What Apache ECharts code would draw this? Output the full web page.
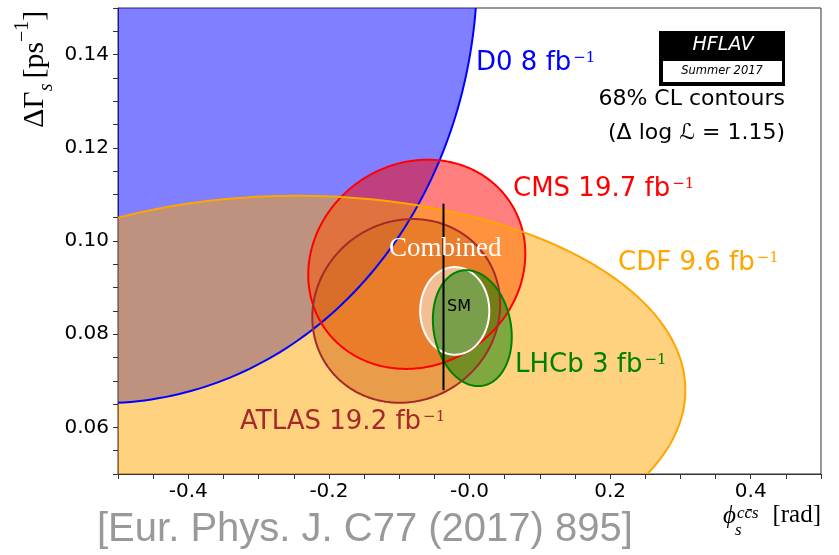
<!DOCTYPE html>
<html>
<head>
<meta charset="utf-8">
<script src="https://cdn.jsdelivr.net/npm/echarts@6/dist/echarts.min.js"></script>
<style>
  html, body { margin: 0; padding: 0; background: #fff; }
  #chart { width: 839px; height: 555px; }
</style>
</head>
<body>
<div id="chart"></div>
<script>
// 68% CL contours in the (phi_s, DeltaGamma_s) plane, drawn in this order
const contourNames = ['D0', 'CMS', 'ATLAS', 'CDF', 'Combined', 'LHCb'];
const phiCentre    = [-0.550, -0.075, -0.090, -0.245, -0.021, 0.004];
const phiSigma     = [0.370, 0.1018, 0.0881, 0.364, 0.0324, 0.0370];
const dgCentre     = [0.163, 0.095, 0.085, 0.068, 0.085, 0.0813];
const dgSigma      = [0.0645, 0.0148, 0.0130, 0.0275, 0.0062, 0.0082];
const correlation  = [-0.045, 0.10, 0.07, 0.0, 0.0, -0.15];
const deltaLogL = 1.15;

// Standard Model prediction
const smPhi = -0.037;
const smDeltaGamma = [0.068, 0.108];

// Axis tick labels
const phiTicks = [-0.4, -0.2, 0.0, 0.2, 0.4];
const phiTickText = ['-0.4', '-0.2', '-0.0', '0.2', '0.4'];
const dgTicks = [0.06, 0.08, 0.10, 0.12, 0.14];
const dgTickText = ['0.06', '0.08', '0.10', '0.12', '0.14'];

const contourColor = {
  D0: '#0000ff', CMS: '#ff0000', ATLAS: '#a52a2a',
  CDF: '#ffa500', Combined: '#ffffff', LHCb: '#008000'
};

const SANS = "'DejaVu Sans'";
const SERIF = "'Liberation Serif'";
const MATH_SERIF = "'DejaVu Serif'";
const TOP_Z = 100;

const measureCtx = document.createElement('canvas').getContext('2d');
function textWidth(str, font) {
  measureCtx.font = font;
  return measureCtx.measureText(str).width;
}

function textEl(x, y, text, font, fill, align) {
  return {
    type: 'text', z: TOP_Z, x: x, y: y,
    style: {
      text: text, font: font, fill: fill,
      textAlign: align || 'left', align: align || 'left',
      textVerticalAlign: 'middle', verticalAlign: 'middle'
    }
  };
}

// Lay out a run of text fragments (main text, sub/superscripts) left to right
function textRun(x, y, pieces, opts) {
  opts = opts || {};
  let cx = 0;
  const children = [];
  pieces.forEach(function (p) {
    const font = (p.italic ? 'italic ' : '') + p.size + 'px ' + p.family;
    cx += p.gap || 0;
    children.push(textEl(cx, p.dy || 0, p.text, font, p.color || '#000'));
    cx += textWidth(p.text, font);
  });
  if (opts.alignRight) children.forEach(function (c) { c.x -= cx; });
  return { type: 'group', x: x, y: y, rotation: opts.rotation || 0, z: TOP_Z, children: children };
}

function expLabel(x, y, main, color) {
  return textRun(x, y, [
    { text: main, size: 26, family: SANS, color: color },
    { text: '\u22121', size: 15, family: MATH_SERIF, color: color, dy: -5, gap: 2 }
  ]);
}

function ellipsePoints(i, api) {
  const k = Math.sqrt(2 * deltaLogL);
  const r = correlation[i];
  const s = Math.sqrt(1 - r * r);
  const pts = [];
  const n = 360;
  for (let j = 0; j <= n; j++) {
    const t = 2 * Math.PI * j / n;
    const x = phiCentre[i] + k * phiSigma[i] * Math.cos(t);
    const y = dgCentre[i] + k * dgSigma[i] * (r * Math.cos(t) + s * Math.sin(t));
    pts.push(api.coord([x, y]));
  }
  return pts;
}

const contourData = contourNames.map(function (n, i) { return [phiCentre[i], dgCentre[i], i]; });

function tickFormatter(ticks, texts) {
  return function (v) {
    for (let j = 0; j < ticks.length; j++) {
      if (Math.abs(v - ticks[j]) < 1e-6) return texts[j];
    }
    return '';
  };
}

const axisCommon = {
  type: 'value',
  axisLine: { show: true, onZero: false, lineStyle: { color: '#333', width: 1 } },
  axisTick: { show: true, inside: false, length: 5, lineStyle: { color: '#333', width: 1 } },
  splitLine: { show: false },
  axisLabel: { color: '#000', fontSize: 20, fontFamily: 'DejaVu Sans' }
};

const chart = echarts.init(document.getElementById('chart'), null, { renderer: 'canvas' });

chart.setOption({
  animation: false,
  backgroundColor: '#fff',
  grid: {
    left: 118, right: 18, top: 8, bottom: 81,
    show: true, borderColor: '#333', borderWidth: 1, backgroundColor: 'transparent'
  },
  xAxis: Object.assign({}, axisCommon, {
    min: -0.5, max: 0.5, interval: 0.05,
    axisLabel: Object.assign({}, axisCommon.axisLabel, {
      margin: 8, formatter: tickFormatter(phiTicks, phiTickText)
    })
  }),
  yAxis: Object.assign({}, axisCommon, {
    min: 0.05, max: 0.15, interval: 0.005,
    axisLabel: Object.assign({}, axisCommon.axisLabel, {
      margin: 9, formatter: tickFormatter(dgTicks, dgTickText)
    })
  }),
  series: [
    {
      name: 'contour fills',
      type: 'custom',
      clip: true,
      data: contourData,
      renderItem: function (params, api) {
        const i = params.dataIndex;
        return {
          type: 'polygon',
          shape: { points: ellipsePoints(i, api) },
          style: { fill: contourColor[contourNames[i]], opacity: 0.5, stroke: null }
        };
      }
    },
    {
      name: 'contour edges',
      type: 'custom',
      clip: true,
      data: contourData,
      renderItem: function (params, api) {
        const i = params.dataIndex;
        return {
          type: 'polyline',
          shape: { points: ellipsePoints(i, api) },
          style: { fill: null, stroke: contourColor[contourNames[i]], lineWidth: 2 }
        };
      }
    },
    {
      name: 'SM',
      type: 'line',
      symbol: 'none',
      data: [[smPhi, smDeltaGamma[0]], [smPhi, smDeltaGamma[1]]],
      lineStyle: { color: '#000', width: 2 },
      z: 5
    }
  ],
  graphic: [
    expLabel(476, 63, 'D0 8 fb', '#0000ff'),
    expLabel(513, 189, 'CMS 19.7 fb', '#ff0000'),
    expLabel(618, 263, 'CDF 9.6 fb', '#ffa500'),
    expLabel(515, 365, 'LHCb 3 fb', '#008000'),
    expLabel(240, 422, 'ATLAS 19.2 fb', '#a52a2a'),
    textRun(389, 249, [{ text: 'Combined', size: 27, family: SERIF, color: '#fff' }]),
    textRun(447, 307, [{ text: 'SM', size: 16, family: SANS, color: '#000' }]),

    // HFLAV badge
    { type: 'rect', z: TOP_Z, shape: { x: 659, y: 31, width: 126, height: 55 }, style: { fill: '#000' } },
    { type: 'rect', z: TOP_Z + 1, shape: { x: 663, y: 61, width: 119, height: 21 }, style: { fill: '#fff' } },
    Object.assign(textEl(723, 45, 'HFLAV', 'italic 19px ' + SANS, '#fff', 'center'), { z: TOP_Z + 2 }),
    Object.assign(textEl(722, 71.5, 'Summer 2017', 'italic 11.5px ' + SANS, '#000', 'center'), { z: TOP_Z + 2 }),

    textRun(785, 99, [{ text: '68% CL contours', size: 22, family: SANS }], { alignRight: true }),
    textRun(785, 133, [{ text: '(\u0394 log \u2112 = 1.15)', size: 22, family: SANS }], { alignRight: true }),

    // axis titles
    textRun(45, 128, [
      { text: '\u0394\u0393', size: 30, family: SERIF, dy: -10 },
      { text: 's', size: 20, family: SERIF, italic: true, dy: 2 },
      { text: '[ps', size: 30, family: SERIF, dy: -10, gap: 5 },
      { text: '\u22121', size: 20, family: SERIF, dy: -22 },
      { text: ']', size: 30, family: SERIF, dy: -10 }
    ], { rotation: Math.PI / 2 }),
    textEl(723, 516, '\u03d5', 'italic 25px ' + SERIF, '#000'),
    textEl(737, 514, 'cc\u0304s', 'italic 17px ' + SERIF, '#000'),
    textEl(735, 531, 's', 'italic 17px ' + SERIF, '#000'),
    textRun(821, 515, [{ text: '[rad]', size: 25, family: SERIF }], { alignRight: true }),

    // reference
    textRun(97, 530, [{ text: '[Eur. Phys. J. C77 (2017) 895]', size: 40, family: "'Liberation Sans'", color: '#999999' }])
  ]
});
</script>
</body>
</html>
